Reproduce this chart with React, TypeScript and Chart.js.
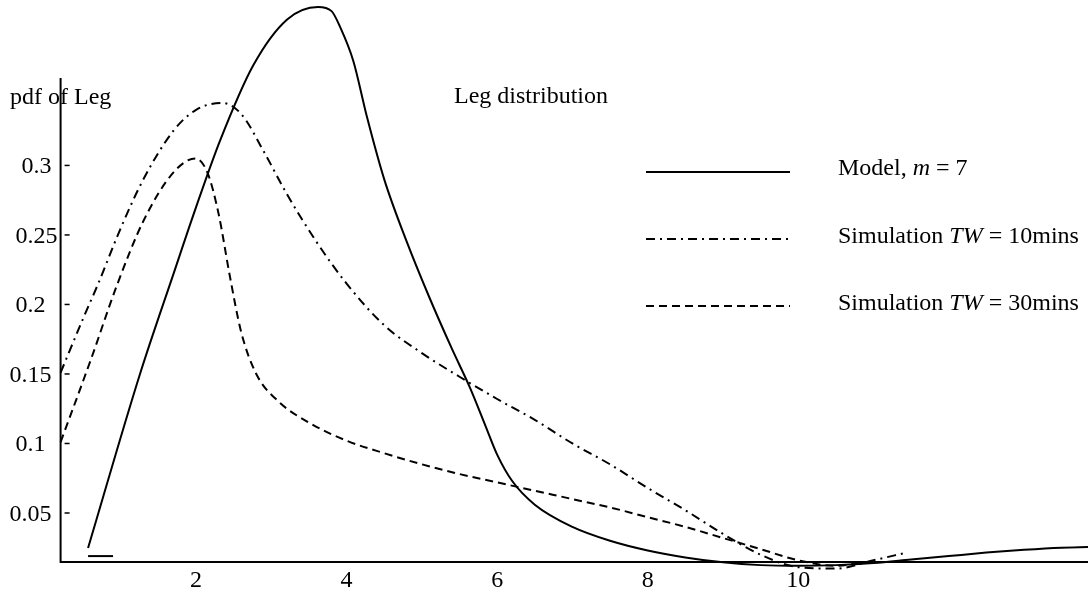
import React, { useEffect, useRef } from "react";
import { Chart, registerables } from "chart.js";
Chart.register(...registerables);

const modelX = [0.565, 1.255, 1.7, 2.0, 2.32, 2.76, 3.21, 3.62, 3.8, 3.91, 4.09, 4.27, 4.5, 4.8, 5.1, 5.4, 5.64, 5.85, 6.0, 6.2, 6.5, 7.0, 7.5, 8.0, 8.5, 9.0, 9.5, 10.0, 10.5, 11.0, 11.5, 12.0, 12.5, 13.0, 13.5, 13.85];
const modelY = [0.0248, 0.15, 0.222, 0.27, 0.318, 0.372, 0.405, 0.414, 0.411, 0.4, 0.375, 0.335, 0.29, 0.245, 0.205, 0.168, 0.14, 0.112, 0.092, 0.073, 0.056, 0.04, 0.03, 0.023, 0.018, 0.0145, 0.0125, 0.012, 0.0125, 0.014, 0.0165, 0.019, 0.0215, 0.0235, 0.025, 0.0255];

const tw10X = [0.2, 0.5, 0.7, 1.0, 1.3, 1.7, 2.0, 2.35, 2.6, 2.9, 3.2, 3.6, 4.0, 4.5, 5.0, 5.5, 6.0, 6.5, 7.0, 7.5, 8.0, 8.5, 9.0, 9.5, 10.0, 10.5, 11.0, 11.4];
const tw10Y = [0.151, 0.19, 0.215, 0.255, 0.29, 0.325, 0.34, 0.345, 0.337, 0.31, 0.28, 0.245, 0.215, 0.185, 0.165, 0.148, 0.132, 0.117, 0.1, 0.085, 0.068, 0.052, 0.035, 0.02, 0.011, 0.01, 0.016, 0.021];

const tw30X = [0.2, 0.6, 0.95, 1.3, 1.7, 1.99, 2.15, 2.3, 2.45, 2.6, 2.8, 3.1, 3.5, 4.0, 4.5, 5.0, 5.5, 6.0, 6.5, 7.0, 7.5, 8.0, 8.5, 9.0, 9.5, 10.0, 10.5, 10.8];
const tw30Y = [0.101, 0.16, 0.214, 0.26, 0.295, 0.305, 0.295, 0.265, 0.22, 0.18, 0.15, 0.13, 0.115, 0.102, 0.093, 0.085, 0.078, 0.072, 0.066, 0.06, 0.054, 0.047, 0.04, 0.032, 0.024, 0.016, 0.012, 0.014];

const markX = [0.565, 0.897];
const markY = [0.019, 0.019];

const yTicks = [0.05, 0.1, 0.15, 0.2, 0.25, 0.3];
const yTickLabels = ["0.05", "0.1", "0.15", "0.2", "0.25", "0.3"];
const xTicks = [2, 4, 6, 8, 10];
const xTickLabels = ["2", "4", "6", "8", "10"];

const yAxisTitle = "pdf of Leg";
const plotTitle = "Leg distribution";
const legendParts = [
  [["Model, ", false], ["m", true], [" = 7", false]],
  [["Simulation ", false], ["TW", true], [" = 10mins", false]],
  [["Simulation ", false], ["TW", true], [" = 30mins", false]],
];

const X_MIN = -0.605;
const X_MAX = 13.85;
const Y_MIN = -0.00827;
const Y_MAX = 0.419;
const AXIS_X = 0.2;
const AXIS_Y = 0.0147;

const FONT = '"Liberation Serif", "Times New Roman", serif';
const FS = 24;

const toPts = (xs: number[], ys: number[]) => xs.map((x, i) => ({ x, y: ys[i] }));

const DASHED = [8, 5];
const DASHDOT = [9, 5, 2, 5];

export default function App() {
  const ref = useRef<HTMLCanvasElement | null>(null);
  useEffect(() => {
    document.body.style.margin = "0";
    const canvas = ref.current;
    if (!canvas) return;

    const overlay = {
      id: "overlay",
      afterDatasetsDraw(chart: any) {
        const ctx = chart.ctx as CanvasRenderingContext2D;
        const xs = chart.scales.x;
        const ys = chart.scales.y;
        const ax = xs.getPixelForValue(AXIS_X);
        const ay = ys.getPixelForValue(AXIS_Y);
        ctx.save();
        ctx.strokeStyle = "#000";
        ctx.fillStyle = "#000";
        ctx.lineWidth = 2;
        ctx.setLineDash([]);
        ctx.beginPath();
        ctx.moveTo(ax, 78);
        ctx.lineTo(ax, ay);
        ctx.lineTo(chart.width, ay);
        ctx.stroke();
        ctx.lineWidth = 1.5;
        ctx.font = `${FS}px ${FONT}`;
        yTicks.forEach((v, i) => {
          const py = ys.getPixelForValue(v);
          ctx.beginPath();
          ctx.moveTo(ax + 4, py);
          ctx.lineTo(ax + 9, py);
          ctx.stroke();
          ctx.textAlign = "center";
          ctx.textBaseline = "alphabetic";
          const cx = v >= 0.25 ? ax - 24 : ax - 30;
          ctx.fillText(yTickLabels[i], cx, py + 8);
        });
        xTicks.forEach((v, i) => {
          const px = xs.getPixelForValue(v);
          ctx.textAlign = "center";
          ctx.fillText(xTickLabels[i], px, 587);
        });
        ctx.textAlign = "left";
        ctx.fillText(yAxisTitle, 10, 104);
        ctx.fillText(plotTitle, 454, 103);
        const order = [[], DASHDOT, DASHED];
        const ly = [172, 239, 306];
        const baseY = [175, 243, 310];
        for (let k = 0; k < 3; k++) {
          ctx.lineWidth = 2;
          ctx.setLineDash(order[k]);
          ctx.beginPath();
          ctx.moveTo(646, ly[k]);
          ctx.lineTo(790, ly[k]);
          ctx.stroke();
          ctx.setLineDash([]);
          let tx = 838;
          for (const [txt, it] of legendParts[k] as any) {
            ctx.font = `${it ? "italic " : ""}${FS}px ${FONT}`;
            ctx.fillText(txt, tx, baseY[k]);
            tx += ctx.measureText(txt).width;
          }
        }
        ctx.restore();
      },
    };

    const chart = new Chart(canvas, {
      type: "line",
      data: {
        datasets: [
          { label: "Model, m = 7", data: toPts(modelX, modelY), borderColor: "#000", borderWidth: 2, pointRadius: 0, cubicInterpolationMode: "monotone", fill: false },
          { label: "Simulation TW = 10mins", data: toPts(tw10X, tw10Y), borderColor: "#000", borderWidth: 2, borderDash: DASHDOT, pointRadius: 0, cubicInterpolationMode: "monotone", fill: false },
          { label: "Simulation TW = 30mins", data: toPts(tw30X, tw30Y), borderColor: "#000", borderWidth: 2, borderDash: DASHED, pointRadius: 0, cubicInterpolationMode: "monotone", fill: false },
          { label: "mark", data: toPts(markX, markY), borderColor: "#000", borderWidth: 2, pointRadius: 0, fill: false },
        ],
      },
      options: {
        responsive: false,
        animation: false,
        layout: { padding: 0 },
        plugins: { legend: { display: false }, tooltip: { enabled: false }, title: { display: false } },
        scales: {
          x: { type: "linear", min: X_MIN, max: X_MAX, display: false },
          y: { type: "linear", min: Y_MIN, max: Y_MAX, display: false },
        },
      },
      plugins: [overlay],
    } as any);
    return () => chart.destroy();
  }, []);

  return (
    <div style={{ width: 1088, height: 594, background: "#fff" }}>
      <canvas ref={ref} width={1088} height={594} style={{ display: "block" }} />
    </div>
  );
}
